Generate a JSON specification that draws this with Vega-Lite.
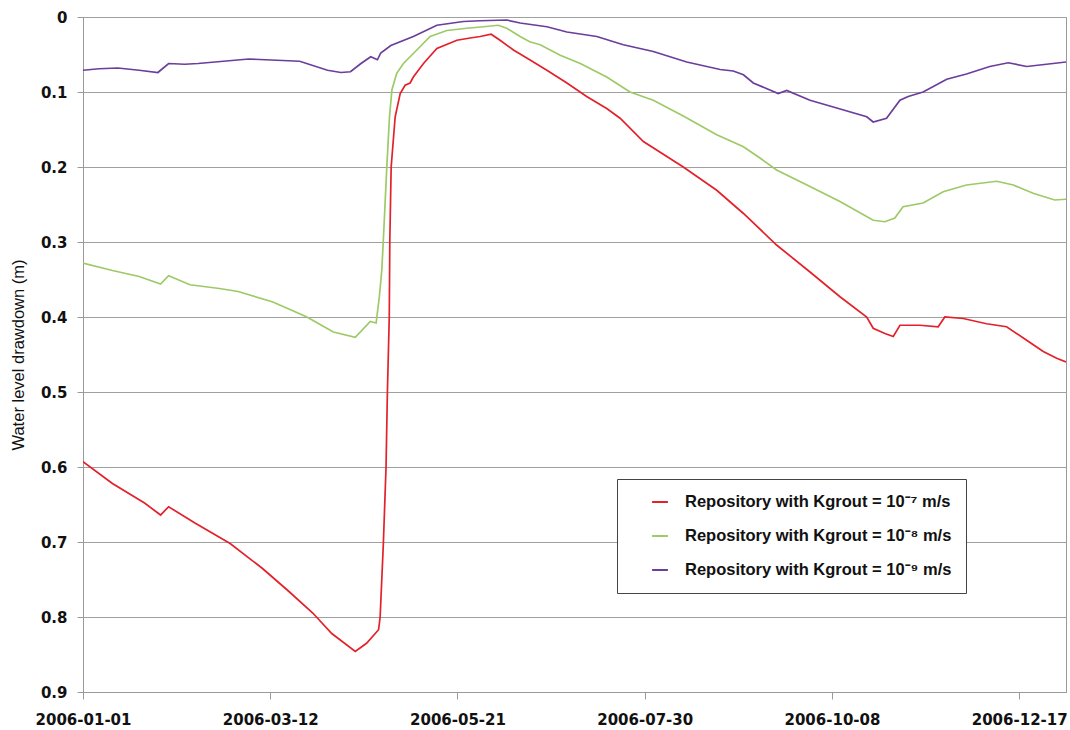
{
  "$schema": "https://vega.github.io/schema/vega-lite/v6.json",
  "width": 983,
  "height": 675,
  "autosize": {"type": "none"},
  "padding": {"left": 83, "top": 17, "right": 4, "bottom": 38},
  "background": "white",
  "config": {
    "font": "Liberation Sans",
    "view": {"stroke": "#9a9a9a", "strokeWidth": 1},
    "axis": {"domainColor": "#9a9a9a", "tickColor": "#9a9a9a", "gridColor": "#a0a0a0", "labelColor": "#111", "titleColor": "#111"}
  },
  "datasets": {
    "series": [
      {"s": "k7", "d": "2006-01-01", "v": 0.593},
      {"s": "k7", "d": "2006-01-12", "v": 0.622},
      {"s": "k7", "d": "2006-01-24", "v": 0.648},
      {"s": "k7", "d": "2006-01-30", "v": 0.664},
      {"s": "k7", "d": "2006-02-02", "v": 0.653},
      {"s": "k7", "d": "2006-02-12", "v": 0.675},
      {"s": "k7", "d": "2006-02-25", "v": 0.702},
      {"s": "k7", "d": "2006-03-09", "v": 0.735},
      {"s": "k7", "d": "2006-03-19", "v": 0.766},
      {"s": "k7", "d": "2006-03-28", "v": 0.795},
      {"s": "k7", "d": "2006-04-04", "v": 0.822},
      {"s": "k7", "d": "2006-04-12T19:00:00Z", "v": 0.846},
      {"s": "k7", "d": "2006-04-17", "v": 0.835},
      {"s": "k7", "d": "2006-04-21T12:00:00Z", "v": 0.817},
      {"s": "k7", "d": "2006-04-22T02:00:00Z", "v": 0.8},
      {"s": "k7", "d": "2006-04-23T07:00:00Z", "v": 0.702},
      {"s": "k7", "d": "2006-04-24T07:00:00Z", "v": 0.6},
      {"s": "k7", "d": "2006-04-24T19:00:00Z", "v": 0.502},
      {"s": "k7", "d": "2006-04-25T12:00:00Z", "v": 0.4},
      {"s": "k7", "d": "2006-04-25T17:00:00Z", "v": 0.297},
      {"s": "k7", "d": "2006-04-26T05:00:00Z", "v": 0.2},
      {"s": "k7", "d": "2006-04-27T17:00:00Z", "v": 0.133},
      {"s": "k7", "d": "2006-04-29T14:00:00Z", "v": 0.102},
      {"s": "k7", "d": "2006-05-01T10:00:00Z", "v": 0.091},
      {"s": "k7", "d": "2006-05-03T07:00:00Z", "v": 0.088},
      {"s": "k7", "d": "2006-05-04T12:00:00Z", "v": 0.08},
      {"s": "k7", "d": "2006-05-08T07:00:00Z", "v": 0.062},
      {"s": "k7", "d": "2006-05-13T07:00:00Z", "v": 0.042},
      {"s": "k7", "d": "2006-05-20T19:00:00Z", "v": 0.031},
      {"s": "k7", "d": "2006-05-25T17:00:00Z", "v": 0.028},
      {"s": "k7", "d": "2006-05-29T12:00:00Z", "v": 0.026},
      {"s": "k7", "d": "2006-06-02T14:00:00Z", "v": 0.023},
      {"s": "k7", "d": "2006-06-05T22:00:00Z", "v": 0.031},
      {"s": "k7", "d": "2006-06-10T22:00:00Z", "v": 0.044},
      {"s": "k7", "d": "2006-06-17", "v": 0.057},
      {"s": "k7", "d": "2006-06-23T10:00:00Z", "v": 0.071},
      {"s": "k7", "d": "2006-06-30T22:00:00Z", "v": 0.088},
      {"s": "k7", "d": "2006-07-08T07:00:00Z", "v": 0.106},
      {"s": "k7", "d": "2006-07-15T19:00:00Z", "v": 0.122},
      {"s": "k7", "d": "2006-07-20T19:00:00Z", "v": 0.135},
      {"s": "k7", "d": "2006-07-29T12:00:00Z", "v": 0.166},
      {"s": "k7", "d": "2006-08-13T10:00:00Z", "v": 0.2},
      {"s": "k7", "d": "2006-08-25T22:00:00Z", "v": 0.231},
      {"s": "k7", "d": "2006-09-04T22:00:00Z", "v": 0.262},
      {"s": "k7", "d": "2006-09-17T07:00:00Z", "v": 0.304},
      {"s": "k7", "d": "2006-09-29T19:00:00Z", "v": 0.34},
      {"s": "k7", "d": "2006-10-11", "v": 0.373},
      {"s": "k7", "d": "2006-10-21", "v": 0.4},
      {"s": "k7", "d": "2006-10-23T10:00:00Z", "v": 0.415},
      {"s": "k7", "d": "2006-10-27T19:00:00Z", "v": 0.422},
      {"s": "k7", "d": "2006-10-30T22:00:00Z", "v": 0.426},
      {"s": "k7", "d": "2006-11-02T10:00:00Z", "v": 0.411},
      {"s": "k7", "d": "2006-11-09T22:00:00Z", "v": 0.411},
      {"s": "k7", "d": "2006-11-16T17:00:00Z", "v": 0.413},
      {"s": "k7", "d": "2006-11-19T05:00:00Z", "v": 0.4},
      {"s": "k7", "d": "2006-11-26T02:00:00Z", "v": 0.402},
      {"s": "k7", "d": "2006-12-04T19:00:00Z", "v": 0.409},
      {"s": "k7", "d": "2006-12-12T07:00:00Z", "v": 0.413},
      {"s": "k7", "d": "2006-12-19T19:00:00Z", "v": 0.431},
      {"s": "k7", "d": "2006-12-26", "v": 0.446},
      {"s": "k7", "d": "2006-12-31", "v": 0.455},
      {"s": "k7", "d": "2007-01-03T12:00:00Z", "v": 0.46},

      {"s": "k8", "d": "2006-01-01", "v": 0.328},
      {"s": "k8", "d": "2006-01-12", "v": 0.338},
      {"s": "k8", "d": "2006-01-22", "v": 0.346},
      {"s": "k8", "d": "2006-01-30", "v": 0.356},
      {"s": "k8", "d": "2006-02-02", "v": 0.345},
      {"s": "k8", "d": "2006-02-10", "v": 0.357},
      {"s": "k8", "d": "2006-02-21", "v": 0.362},
      {"s": "k8", "d": "2006-02-28", "v": 0.366},
      {"s": "k8", "d": "2006-03-13", "v": 0.38},
      {"s": "k8", "d": "2006-03-25T17:00:00Z", "v": 0.4},
      {"s": "k8", "d": "2006-04-04T14:00:00Z", "v": 0.42},
      {"s": "k8", "d": "2006-04-12T19:00:00Z", "v": 0.427},
      {"s": "k8", "d": "2006-04-18T10:00:00Z", "v": 0.406},
      {"s": "k8", "d": "2006-04-20T14:00:00Z", "v": 0.408},
      {"s": "k8", "d": "2006-04-21T19:00:00Z", "v": 0.373},
      {"s": "k8", "d": "2006-04-22T17:00:00Z", "v": 0.337},
      {"s": "k8", "d": "2006-04-23T07:00:00Z", "v": 0.297},
      {"s": "k8", "d": "2006-04-24T14:00:00Z", "v": 0.2},
      {"s": "k8", "d": "2006-04-25T14:00:00Z", "v": 0.133},
      {"s": "k8", "d": "2006-04-26T12:00:00Z", "v": 0.097},
      {"s": "k8", "d": "2006-04-28T07:00:00Z", "v": 0.075},
      {"s": "k8", "d": "2006-04-30T19:00:00Z", "v": 0.062},
      {"s": "k8", "d": "2006-05-05T19:00:00Z", "v": 0.044},
      {"s": "k8", "d": "2006-05-10T19:00:00Z", "v": 0.026},
      {"s": "k8", "d": "2006-05-17", "v": 0.018},
      {"s": "k8", "d": "2006-05-24T12:00:00Z", "v": 0.015},
      {"s": "k8", "d": "2006-05-30T17:00:00Z", "v": 0.013},
      {"s": "k8", "d": "2006-06-05T07:00:00Z", "v": 0.011},
      {"s": "k8", "d": "2006-06-08T10:00:00Z", "v": 0.015},
      {"s": "k8", "d": "2006-06-13T10:00:00Z", "v": 0.026},
      {"s": "k8", "d": "2006-06-17", "v": 0.033},
      {"s": "k8", "d": "2006-06-20T22:00:00Z", "v": 0.037},
      {"s": "k8", "d": "2006-06-28T10:00:00Z", "v": 0.051},
      {"s": "k8", "d": "2006-07-05T22:00:00Z", "v": 0.062},
      {"s": "k8", "d": "2006-07-15T19:00:00Z", "v": 0.08},
      {"s": "k8", "d": "2006-07-24T12:00:00Z", "v": 0.1},
      {"s": "k8", "d": "2006-08-02T05:00:00Z", "v": 0.111},
      {"s": "k8", "d": "2006-08-13T10:00:00Z", "v": 0.132},
      {"s": "k8", "d": "2006-08-25T22:00:00Z", "v": 0.157},
      {"s": "k8", "d": "2006-09-04T22:00:00Z", "v": 0.173},
      {"s": "k8", "d": "2006-09-11T02:00:00Z", "v": 0.188},
      {"s": "k8", "d": "2006-09-17T07:00:00Z", "v": 0.204},
      {"s": "k8", "d": "2006-09-29T19:00:00Z", "v": 0.226},
      {"s": "k8", "d": "2006-10-11", "v": 0.246},
      {"s": "k8", "d": "2006-10-23T10:00:00Z", "v": 0.271},
      {"s": "k8", "d": "2006-10-27T19:00:00Z", "v": 0.273},
      {"s": "k8", "d": "2006-10-31T12:00:00Z", "v": 0.268},
      {"s": "k8", "d": "2006-11-03T14:00:00Z", "v": 0.253},
      {"s": "k8", "d": "2006-11-11T02:00:00Z", "v": 0.248},
      {"s": "k8", "d": "2006-11-18T14:00:00Z", "v": 0.233},
      {"s": "k8", "d": "2006-11-27T07:00:00Z", "v": 0.224},
      {"s": "k8", "d": "2006-12-08T14:00:00Z", "v": 0.219},
      {"s": "k8", "d": "2006-12-14T19:00:00Z", "v": 0.224},
      {"s": "k8", "d": "2006-12-22T05:00:00Z", "v": 0.235},
      {"s": "k8", "d": "2006-12-30T07:00:00Z", "v": 0.244},
      {"s": "k8", "d": "2007-01-03T12:00:00Z", "v": 0.243},

      {"s": "k9", "d": "2006-01-01", "v": 0.071},
      {"s": "k9", "d": "2006-01-07", "v": 0.069},
      {"s": "k9", "d": "2006-01-14", "v": 0.068},
      {"s": "k9", "d": "2006-01-22", "v": 0.071},
      {"s": "k9", "d": "2006-01-29", "v": 0.074},
      {"s": "k9", "d": "2006-02-02", "v": 0.062},
      {"s": "k9", "d": "2006-02-08", "v": 0.063},
      {"s": "k9", "d": "2006-02-13", "v": 0.062},
      {"s": "k9", "d": "2006-03-04", "v": 0.056},
      {"s": "k9", "d": "2006-03-23", "v": 0.059},
      {"s": "k9", "d": "2006-04-02T10:00:00Z", "v": 0.071},
      {"s": "k9", "d": "2006-04-07T10:00:00Z", "v": 0.074},
      {"s": "k9", "d": "2006-04-11", "v": 0.073},
      {"s": "k9", "d": "2006-04-14T22:00:00Z", "v": 0.062},
      {"s": "k9", "d": "2006-04-18T14:00:00Z", "v": 0.053},
      {"s": "k9", "d": "2006-04-21T02:00:00Z", "v": 0.057},
      {"s": "k9", "d": "2006-04-22T07:00:00Z", "v": 0.048},
      {"s": "k9", "d": "2006-04-26T02:00:00Z", "v": 0.038},
      {"s": "k9", "d": "2006-05-04T12:00:00Z", "v": 0.026},
      {"s": "k9", "d": "2006-05-13T07:00:00Z", "v": 0.011},
      {"s": "k9", "d": "2006-05-23T05:00:00Z", "v": 0.006},
      {"s": "k9", "d": "2006-05-29T12:00:00Z", "v": 0.005},
      {"s": "k9", "d": "2006-06-08T10:00:00Z", "v": 0.004},
      {"s": "k9", "d": "2006-06-13T10:00:00Z", "v": 0.008},
      {"s": "k9", "d": "2006-06-23T10:00:00Z", "v": 0.013},
      {"s": "k9", "d": "2006-06-30T22:00:00Z", "v": 0.02},
      {"s": "k9", "d": "2006-07-12T02:00:00Z", "v": 0.026},
      {"s": "k9", "d": "2006-07-22", "v": 0.037},
      {"s": "k9", "d": "2006-08-02T05:00:00Z", "v": 0.046},
      {"s": "k9", "d": "2006-08-14T17:00:00Z", "v": 0.06},
      {"s": "k9", "d": "2006-08-27T05:00:00Z", "v": 0.07},
      {"s": "k9", "d": "2006-09-01T02:00:00Z", "v": 0.072},
      {"s": "k9", "d": "2006-09-04T22:00:00Z", "v": 0.077},
      {"s": "k9", "d": "2006-09-08T14:00:00Z", "v": 0.088},
      {"s": "k9", "d": "2006-09-17T22:00:00Z", "v": 0.102},
      {"s": "k9", "d": "2006-09-21T02:00:00Z", "v": 0.098},
      {"s": "k9", "d": "2006-09-29T19:00:00Z", "v": 0.111},
      {"s": "k9", "d": "2006-10-08T12:00:00Z", "v": 0.12},
      {"s": "k9", "d": "2006-10-21", "v": 0.133},
      {"s": "k9", "d": "2006-10-23T10:00:00Z", "v": 0.14},
      {"s": "k9", "d": "2006-10-28T10:00:00Z", "v": 0.135},
      {"s": "k9", "d": "2006-11-02T10:00:00Z", "v": 0.111},
      {"s": "k9", "d": "2006-11-05T12:00:00Z", "v": 0.106},
      {"s": "k9", "d": "2006-11-11T02:00:00Z", "v": 0.1},
      {"s": "k9", "d": "2006-11-19T22:00:00Z", "v": 0.083},
      {"s": "k9", "d": "2006-11-27T07:00:00Z", "v": 0.076},
      {"s": "k9", "d": "2006-12-06", "v": 0.066},
      {"s": "k9", "d": "2006-12-12T22:00:00Z", "v": 0.061},
      {"s": "k9", "d": "2006-12-19T19:00:00Z", "v": 0.066},
      {"s": "k9", "d": "2006-12-27T05:00:00Z", "v": 0.063},
      {"s": "k9", "d": "2007-01-03T12:00:00Z", "v": 0.06}
    ]
  },
  "data": {"name": "series"},
  "mark": {"type": "line", "strokeWidth": 1.7, "clip": true},
  "encoding": {
    "x": {
      "field": "d",
      "type": "temporal",
      "scale": {
        "type": "utc",
        "domain": [
          {"year": 2006, "month": 1, "date": 1, "utc": true},
          {"year": 2007, "month": 1, "date": 3, "hours": 12, "utc": true}
        ]
      },
      "axis": {
        "title": null,
        "grid": false,
        "labelExpr": "utcFormat(datum.value, '%Y-%m-%d')",
        "values": [
          {"year": 2006, "month": 1, "date": 1, "utc": true},
          {"year": 2006, "month": 3, "date": 12, "utc": true},
          {"year": 2006, "month": 5, "date": 21, "utc": true},
          {"year": 2006, "month": 7, "date": 30, "utc": true},
          {"year": 2006, "month": 10, "date": 8, "utc": true},
          {"year": 2006, "month": 12, "date": 17, "utc": true}
        ],
        "labelFont": "DejaVu Sans",
        "labelFontSize": 15,
        "labelFontWeight": "bold",
        "labelPadding": 13,
        "tickSize": 7,
        "labelFlush": false
      }
    },
    "y": {
      "field": "v",
      "type": "quantitative",
      "scale": {"domain": [0, 0.9], "reverse": true, "nice": false},
      "axis": {
        "title": "Water level drawdown (m)",
        "titleFontSize": 16.5,
        "titleFontWeight": "normal",
        "titlePadding": 14,
        "values": [0, 0.1, 0.2, 0.3, 0.4, 0.5, 0.6, 0.7, 0.8, 0.9],
        "format": ".1~f",
        "labelFont": "DejaVu Sans",
        "labelFontSize": 15,
        "labelFontWeight": "bold",
        "labelPadding": 10,
        "tickSize": 6,
        "grid": true
      }
    },
    "color": {
      "field": "s",
      "type": "nominal",
      "scale": {"domain": ["k7", "k8", "k9"], "range": ["#e3212b", "#9dca66", "#6b3d9c"]},
      "legend": {
        "title": null,
        "orient": "none",
        "legendX": 534,
        "legendY": 462,
        "direction": "vertical",
        "labelExpr": "datum.label == 'k7' ? 'Repository with Kgrout = 10⁻⁷ m/s' : datum.label == 'k8' ? 'Repository with Kgrout = 10⁻⁸ m/s' : 'Repository with Kgrout = 10⁻⁹ m/s'",
        "labelFontSize": 16.5,
        "labelFontWeight": "bold",
        "labelColor": "#111",
        "labelLimit": 400,
        "labelOffset": 16,
        "symbolType": "stroke",
        "symbolStrokeWidth": 2,
        "symbolSize": 250,
        "symbolOffset": 20,
        "rowPadding": 16,
        "padding": 14,
        "strokeColor": "#444",
        "fillColor": "white"
      }
    }
  }
}
